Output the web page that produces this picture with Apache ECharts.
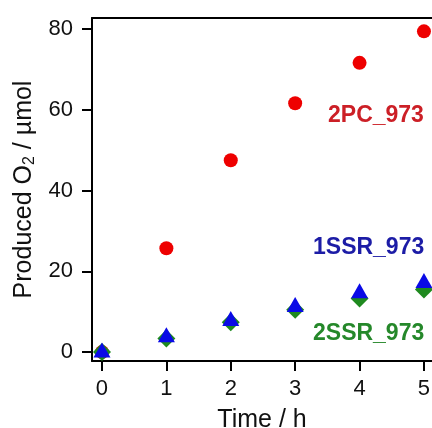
<!DOCTYPE html>
<html><head><meta charset="utf-8">
<script src="https://cdn.jsdelivr.net/npm/echarts@6/dist/echarts.min.js"></script>
<style>html,body{margin:0;padding:0;background:#fff}#c{width:432px;height:428px}</style>
</head><body><div id="c"></div>
<script>
const times = [0, 1, 2, 3, 4, 5];
const pc2 = [0, 25.7, 47.5, 61.6, 71.6, 79.4];
const ssr1 = [0, 3.8, 7.8, 11.3, 14.7, 17.2];
const ssr2 = [0, 3.4, 7.4, 10.5, 13.3, 15.5];
const xTicks = [0, 1, 2, 3, 4, 5];
const yTicks = [0, 20, 40, 60, 80];
const seriesNames = ['2PC_973', '1SSR_973', '2SSR_973'];

const font = '"Liberation Sans", Arial, sans-serif';
const chart = echarts.init(document.getElementById('c'), null, {renderer: 'canvas'});
const pts = arr => times.map((t, i) => [t, arr[i]]);
chart.setOption({
  animation: false,
  backgroundColor: '#fff',
  grid: {left: 92, right: 0, top: 18, bottom: 67, containLabel: false, outerBoundsMode: 'none'},
  xAxis: [{
    type: 'value', min: -0.155, max: 5.125,
    axisLine: {show: true, onZero: false, lineStyle: {color: '#000', width: 2}},
    axisTick: {show: true, length: 10, lineStyle: {color: '#000', width: 2}, customValues: xTicks},
    axisLabel: {color: '#111', fontSize: 22, fontFamily: font, margin: 17, customValues: xTicks},
    splitLine: {show: false},
    name: 'Time / h', nameLocation: 'middle', nameGap: 47,
    nameTextStyle: {color: '#111', fontSize: 25, fontFamily: font}
  }, {
    type: 'value', position: 'top', min: -0.155, max: 5.125,
    axisLine: {show: true, onZero: false, lineStyle: {color: '#000', width: 2}},
    axisTick: {show: false}, axisLabel: {show: false}, splitLine: {show: false}
  }],
  yAxis: {
    type: 'value', min: -2.2, max: 82.7,
    axisLine: {show: true, onZero: false, lineStyle: {color: '#000', width: 2}},
    axisTick: {show: true, length: 10, lineStyle: {color: '#000', width: 2}, customValues: yTicks},
    axisLabel: {color: '#111', fontSize: 22, fontFamily: font, margin: 19, customValues: yTicks},
    splitLine: {show: false},
    name: 'Produced O{sub|2} / µmol', nameLocation: 'middle', nameGap: 46, nameRotate: 90,
    nameTextStyle: {color: '#111', fontSize: 25, fontFamily: font,
      rich: {sub: {fontSize: 16, fontFamily: font, color: '#111', verticalAlign: 'bottom', padding: [12, 0, 0, 0]}}}
  },
  series: [
    {name: seriesNames[0], type: 'scatter', data: pts(pc2), symbol: 'circle', symbolSize: 14,
     itemStyle: {color: '#ee0000', opacity: 1}, z: 2},
    {name: seriesNames[2], type: 'scatter', data: pts(ssr2), symbol: 'diamond', symbolSize: [18, 18],
     itemStyle: {color: '#1f8a1f', opacity: 1}, z: 3},
    {name: seriesNames[1], type: 'scatter', data: pts(ssr1), symbol: 'triangle', symbolSize: [17, 15],
     symbolOffset: [0, -2], itemStyle: {color: '#0a0ae6', opacity: 1}, z: 4}
  ],
  graphic: [
    {type: 'text', left: 328, top: 104, style: {text: seriesNames[0], fill: '#cc1f26', font: 'bold 23px ' + font}},
    {type: 'text', left: 313, top: 236, style: {text: seriesNames[1], fill: '#1c1ca6', font: 'bold 23px ' + font}},
    {type: 'text', left: 313, top: 322, style: {text: seriesNames[2], fill: '#25882a', font: 'bold 23px ' + font}}
  ]
});
</script></body></html>
